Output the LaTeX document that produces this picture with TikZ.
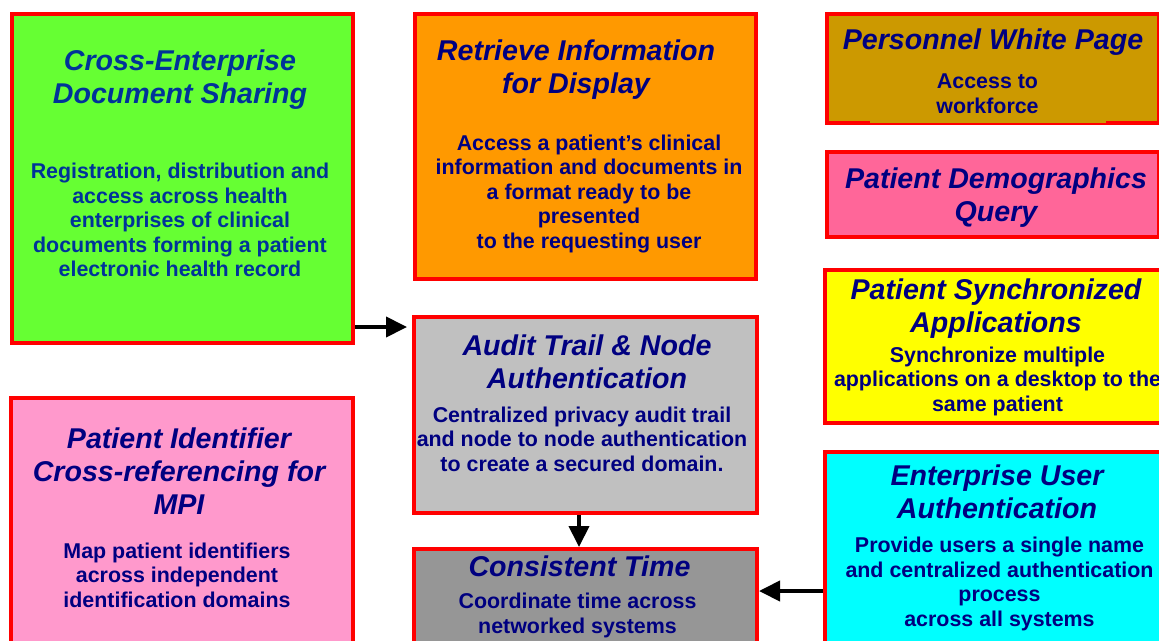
\documentclass[tikz,border=0pt]{standalone}
\usepackage{fontspec}
\setmainfont{Liberation Sans}
\usetikzlibrary{arrows.meta,calc}
\definecolor{xdsfill}{HTML}{66FF33}
\definecolor{ridfill}{HTML}{FF9900}
\definecolor{pwpfill}{HTML}{CC9900}
\definecolor{pdqfill}{HTML}{FF6699}
\definecolor{psafill}{HTML}{FFFF00}
\definecolor{euafill}{HTML}{00FFFF}
\definecolor{pixfill}{HTML}{FF99CC}
\definecolor{atnafill}{HTML}{C0C0C0}
\definecolor{ctfill}{HTML}{969696}
\definecolor{txtnavy}{HTML}{000080}
\definecolor{txtblue}{HTML}{003399}
\tikzset{
  box/.style={draw=red, line width=4pt, inner sep=0pt, anchor=north west},
  ttl/.style={font=\fontsize{28.6}{33}\selectfont\bfseries\itshape, text=txtnavy, align=center, inner sep=0pt},
  bdy/.style={font=\fontsize{21.4}{24.5}\selectfont\bfseries, text=txtnavy, align=center, inner sep=0pt},
  arr/.style={line width=4pt, -{Triangle[length=21pt,width=20pt]}}
}
\begin{document}
\begin{tikzpicture}[x=1pt,y=-1pt]
\useasboundingbox (0,0) rectangle (1159,640);
\clip (0,0) rectangle (1159,640);
\fill[white] (0,0) rectangle (1159,640);

% boxes
\node[box, fill=xdsfill, minimum width=341pt, minimum height=329pt] (xds) at (10,12) {};
\node[box, fill=ridfill, minimum width=341pt, minimum height=265pt] (rid) at (413,12) {};
\node[box, fill=pwpfill, minimum width=332pt, minimum height=109pt] (pwp) at (825,12) {};
\fill[pwpfill] (870,118.5) rectangle (1106,123.2);
\node[box, fill=pdqfill, minimum width=332pt, minimum height=85pt] (pdq) at (825,150) {};
\node[box, fill=psafill, minimum width=352pt, minimum height=153pt] (psa) at (823,268) {};
\node[box, fill=euafill, minimum width=352pt, minimum height=210pt] (eua) at (823,450) {};
\node[box, fill=pixfill, minimum width=342pt, minimum height=264pt] (pix) at (9,396) {};
\node[box, fill=atnafill, minimum width=343pt, minimum height=196pt] (atna) at (412,315) {};
\node[box, fill=ctfill, minimum width=343pt, minimum height=113pt] (ct) at (412,547) {};

% texts
\node[ttl, text=txtblue] (xdsT) at (180,79.5) {Cross-Enterprise\\Document Sharing};
\node[bdy, text=txtblue] (xdsB) at (180,220) {Registration, distribution and\\access across health\\enterprises of clinical\\documents forming a patient\\electronic health record};

\node[ttl] (ridT) at (576,69.5) {Retrieve Information\\for Display};
\node[bdy] (ridB) at (589,194) {Access a patient’s clinical\\information and documents in\\a format ready to be\\presented\\to the requesting user};

\node[ttl] (pwpT) at (993,42) {Personnel White Page};
\node[bdy] (pwpB) at (987.5,93.5) {Access to\\workforce};

\node[ttl] (pdqT) at (996,197.5) {Patient Demographics\\Query};

\node[ttl] (psaT) at (996,308.5) {Patient Synchronized\\Applications};
\node[bdy] (psaB) at (997.5,381) {Synchronize multiple\\applications on a desktop to the\\same patient};

\node[ttl] (euaT) at (997,492) {Enterprise User\\Authentication};
\node[bdy] (euaB) at (999.5,584) {Provide users a single name\\and centralized authentication\\process\\across all systems};

\node[ttl] (pixT) at (179,471.5) {Patient Identifier\\Cross-referencing for\\MPI};
\node[bdy] (pixB) at (177,575) {Map patient identifiers\\across independent\\identification domains};

\node[ttl] (atnaT) at (587,361.5) {Audit Trail \& Node\\Authentication};
\node[bdy] (atnaB) at (582,439) {Centralized privacy audit trail\\and node to node authentication\\to create a secured domain.};

\node[ttl] (ctT) at (579.5,566) {Consistent Time};
\node[bdy] (ctB) at (577.5,615.5) {Coordinate time across\\networked systems};

% connectors
\draw[arr, shorten >=5pt] ([yshift=18pt]xds.south east) -- ([yshift=18pt]xds.south east -| atna.west);
\draw[arr] ([xshift=-6.5pt]atna.south) -- ([xshift=-6.5pt]atna.south |- ct.north);
\draw[arr] ([yshift=-34pt]eua.west) -- ([yshift=-34pt]eua.west -| ct.east);
\end{tikzpicture}
\end{document}
